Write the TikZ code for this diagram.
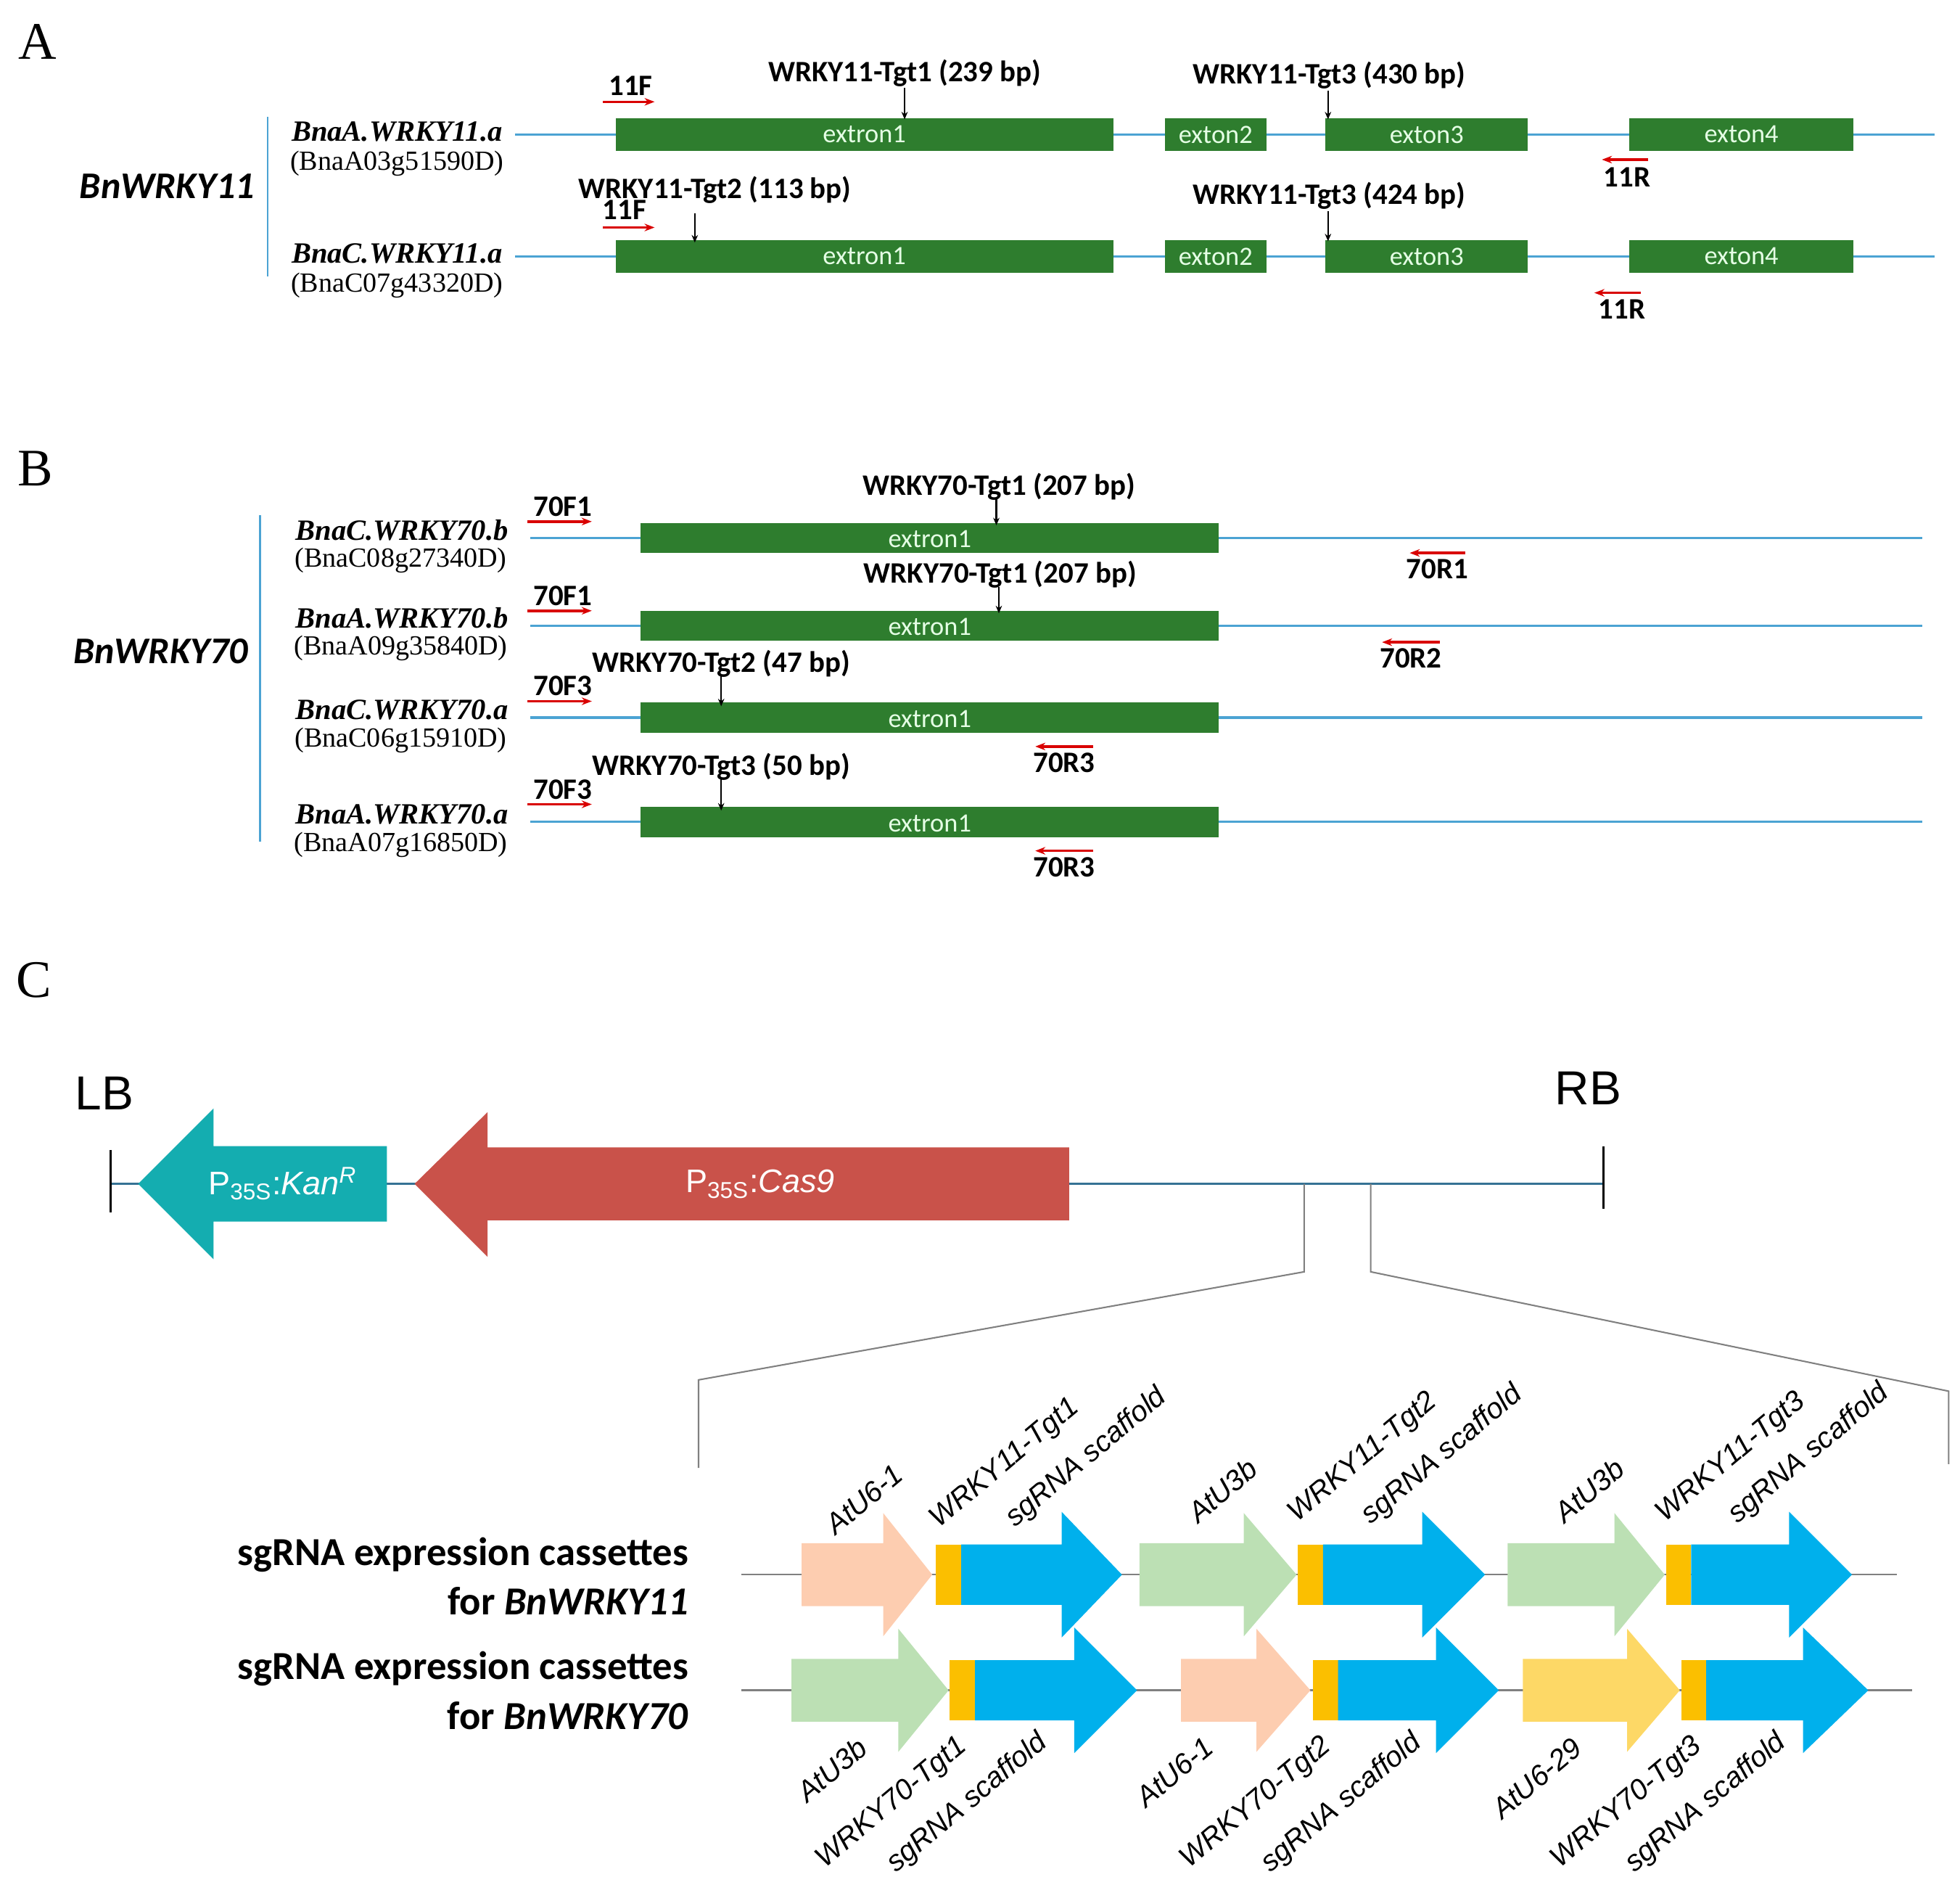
\documentclass[tikz,border=0pt]{standalone}
\usepackage{fontspec}
\setmainfont{Liberation Serif}
\newfontfamily\calf{Carlito}
\newfontfamily\ars{Liberation Sans}
\usetikzlibrary{arrows.meta}
\definecolor{gb}{HTML}{2E7D2E}
\definecolor{lb}{HTML}{4BA3D3}
\definecolor{tealc}{HTML}{14ADB0}
\definecolor{cas}{HTML}{C9524A}
\definecolor{peach}{HTML}{FDCDB0}
\definecolor{lgreen}{HTML}{BCE0B4}
\definecolor{orng}{HTML}{FBBF00}
\definecolor{sky}{HTML}{00B0EC}
\definecolor{yel}{HTML}{FDD866}
\begin{document}
\begin{tikzpicture}[x=0.5pt,y=-0.5pt,
 lbl/.style={font=\calf\bfseries\fontsize{11.8}{13}\selectfont},
 extxt/.style={font=\calf\fontsize{10.5}{11}\selectfont,text=white!90!green},
 gene/.style={font=\bfseries\itshape\fontsize{11.7}{13}\selectfont},
 gid/.style={font=\fontsize{11}{12}\selectfont},
 prim/.style={red!85!black,line width=1pt,-{Stealth[length=4pt,width=3pt]}},
 tgt/.style={black,line width=0.6pt,-{Stealth[length=3pt,width=2.5pt]}},
 big/.style={font=\calf\bfseries\itshape\fontsize{15}{16}\selectfont},
 rl/.style={font=\ars\itshape\fontsize{11.5}{12}\selectfont,rotate=40},
 gl/.style={gray,line width=0.6pt}]
\useasboundingbox (0,0) rectangle (1560,1506);
% ---------- A
\node (LA) at (30,33) {\fontsize{21}{22}\selectfont A};
\draw[lb,line width=0.7pt] (213,93) -- (213,220);
\node[big] (b11) at (133,148) {BnWRKY11};
\foreach \y/\g/\id/\nm in {107/BnaA.WRKY11.a/BnaA03g51590D/ra,204/BnaC.WRKY11.a/BnaC07g43320D/rc}{
 \node[gene] (g\nm) at (316,\y-2) {\g};
 \node[gid] (i\nm) at (316,\y+23) {(\id)};
 \draw[lb,line width=0.9pt] (410,\y) -- (1540,\y);
 \foreach \a/\b/\t in {490/886/extron1,927/1008/exton2,1055/1216/exton3,1297/1475/exton4}
   \fill[gb] (\a,\y-13) rectangle (\b,\y+13);
 \foreach \a/\b/\t in {490/886/extron1,927/1008/exton2,1055/1216/exton3,1297/1475/exton4}
   \node[extxt] at ({(\a+\b)/2},\y) {\t};
}
\coordinate (p1a) at (480,81); \coordinate (p1b) at (521,81);
\draw[prim] (p1a) -- (p1b); \node[lbl] at (502,68) {11F};
\coordinate (p2a) at (480,181); \coordinate (p2b) at (521,181);
\draw[prim] (p2a) -- (p2b); \node[lbl] at (497,167) {11F};
\coordinate (p3a) at (1312,127); \coordinate (p3b) at (1275,127);
\draw[prim] (p3a) -- (p3b); \node[lbl] at (1295,141) {11R};
\coordinate (p4a) at (1306,233); \coordinate (p4b) at (1269,233);
\draw[prim] (p4a) -- (p4b); \node[lbl] at (1291,246) {11R};
\node[lbl] (t1) at (720,58) {WRKY11-Tgt1 (239 bp)};
\draw[tgt] (720,70) -- (720,95);
\node[lbl] (t2) at (569,151) {WRKY11-Tgt2 (113 bp)};
\draw[tgt] (553,170) -- (553,193);
\node[lbl] (t3) at (1058,60) {WRKY11-Tgt3 (430 bp)};
\draw[tgt] (1057,72) -- (1057,95);
\node[lbl] (t4) at (1058,156) {WRKY11-Tgt3 (424 bp)};
\draw[tgt] (1057,168) -- (1057,192);
% ---------- B
\node (LB2) at (28,373) {\fontsize{21}{22}\selectfont B};
\draw[lb,line width=0.7pt] (207,410) -- (207,670);
\node[big] (b70) at (128,518) {BnWRKY70};
\foreach \y/\g/\id/\nm in {428/BnaC.WRKY70.b/BnaC08g27340D/r1,498/BnaA.WRKY70.b/BnaA09g35840D/r2,571/BnaC.WRKY70.a/BnaC06g15910D/r3,654/BnaA.WRKY70.a/BnaA07g16850D/r4}{
 \node[gene] (g\nm) at (320,\y-6) {\g};
 \node[gid] (i\nm) at (319,\y+18) {(\id)};
 \draw[lb,line width=0.9pt] (422,\y) -- (1530,\y);
 \fill[gb] (510,\y-12) rectangle (970,\y+12);
 \node[extxt] at (740,\y+1) {extron1};
}
\foreach \y/\t in {415/70F1,486/70F1,558/70F3,640/70F3}{
 \draw[prim] (420,\y) -- (471,\y); \node[lbl] at (448,\y-12) {\t};}
\foreach \a/\b/\y/\t in {1166/1122/440/70R1,1146/1100/511/70R2,870/824/594/70R3,870/824/677/70R3}{
 \draw[prim] (\a,\y) -- (\b,\y); \node[lbl] at ({(\a+\b)/2},\y+13) {\t};}
\node[lbl] at (795,387) {WRKY70-Tgt1 (207 bp)}; \draw[tgt] (793,397) -- (793,418);
\node[lbl] at (796,457) {WRKY70-Tgt1 (207 bp)}; \draw[tgt] (795,467) -- (795,488);
\node[lbl] at (574,528) {WRKY70-Tgt2 (47 bp)}; \draw[tgt] (574,538) -- (574,562);
\node[lbl] at (574,610) {WRKY70-Tgt3 (50 bp)}; \draw[tgt] (574,620) -- (574,645);
% ---------- C
\node (LC) at (27,780) {\fontsize{21}{22}\selectfont C};
\node[font=\ars\fontsize{19}{20}\selectfont] (lbn) at (83,870) {LB};
\node[font=\ars\fontsize{19}{20}\selectfont] (rbn) at (1264,866) {RB};
\draw[lb!70!black,line width=0.9pt] (88,942) -- (1276,942);
\draw[line width=0.9pt] (88,915) -- (88,965);
\draw[line width=0.9pt] (1276,912) -- (1276,962);
\fill[tealc] (110,942) -- (170,882) -- (170,912) -- (308,912) -- (308,972) -- (170,972) -- (170,1002) -- cycle;
\node[font=\ars\fontsize{13}{14}\selectfont,text=white] (kan) at (225,942) {P\textsubscript{35S}:\textit{Kan}\textsuperscript{\textit{R}}};
\fill[cas] (330,942) -- (388,885) -- (388,913) -- (851,913) -- (851,971) -- (388,971) -- (388,1000) -- cycle;
\node[font=\ars\fontsize{13}{14}\selectfont,text=white] (cas9) at (605,942) {P\textsubscript{35S}:\textit{Cas9}};
\draw[gl] (1038,942) -- (1038,1012) -- (556,1098) -- (556,1168);
\draw[gl] (1091,942) -- (1091,1012) -- (1551,1107) -- (1551,1165);
% cassettes
\newcommand\parr[5]{% y, x0, xh, xtip, color
 \fill[#5] (#2,#1-25) -- (#3,#1-25) -- (#3,#1-49) -- (#4,#1) -- (#3,#1+49) -- (#3,#1+25) -- (#2,#1+25) -- cycle;}
\newcommand\sgarr[4]{% y, x0 (orange), xh, xtip
 \fill[orng] (#2,#1-24) rectangle (#2+20,#1+24);
 \fill[sky] (#2+20,#1-24) -- (#3,#1-24) -- (#3,#1-50) -- (#4,#1) -- (#3,#1+50) -- (#3,#1+24) -- (#2+20,#1+24) -- cycle;}
\draw[gray,line width=0.7pt] (590,1253) -- (1510,1253);
\draw[gray,line width=0.7pt] (590,1345) -- (1522,1345);
\parr{1253}{638}{703}{742}{peach}\sgarr{1253}{745}{845}{893}
\parr{1253}{907}{990}{1032}{lgreen}\sgarr{1253}{1033}{1132}{1182}
\parr{1253}{1200}{1285}{1325}{lgreen}\sgarr{1253}{1326}{1424}{1474}
\parr{1345}{630}{715}{755}{lgreen}\sgarr{1345}{756}{855}{905}
\parr{1345}{940}{1000}{1043}{peach}\sgarr{1345}{1045}{1143}{1193}
\parr{1345}{1212}{1295}{1337}{yel}\sgarr{1345}{1338}{1435}{1487}
\node[rl] at (688,1193) {AtU6-1};
\node[rl] at (800,1165) {WRKY11-Tgt1};
\node[rl] at (865,1160) {sgRNA scaffold};
\node[rl] at (973,1186) {AtU3b};
\node[rl] at (1085,1160) {WRKY11-Tgt2};
\node[rl] at (1148,1158) {sgRNA scaffold};
\node[rl] at (1265,1186) {AtU3b};
\node[rl] at (1378,1160) {WRKY11-Tgt3};
\node[rl] at (1440,1157) {sgRNA scaffold};
\node[rl] at (662,1408) {AtU3b};
\node[rl] at (710,1435) {WRKY70-Tgt1};
\node[rl] at (770,1435) {sgRNA scaffold};
\node[rl] at (935,1410) {AtU6-1};
\node[rl] at (1000,1435) {WRKY70-Tgt2};
\node[rl] at (1068,1435) {sgRNA scaffold};
\node[rl] at (1223,1415) {AtU6-29};
\node[rl] at (1295,1435) {WRKY70-Tgt3};
\node[rl] at (1358,1435) {sgRNA scaffold};
\begin{scope}[every node/.style={font=\calf\bfseries\fontsize{15.8}{17}\selectfont,anchor=east}]
\node (c1) at (555,1237) {sgRNA expression cassettes};
\node (c2) at (555,1274) {for \textit{BnWRKY11}};
\node (c3) at (555,1328) {sgRNA expression cassettes};
\node (c4) at (555,1365) {for \textit{BnWRKY70}};
\end{scope}
\end{tikzpicture}
\end{document}
